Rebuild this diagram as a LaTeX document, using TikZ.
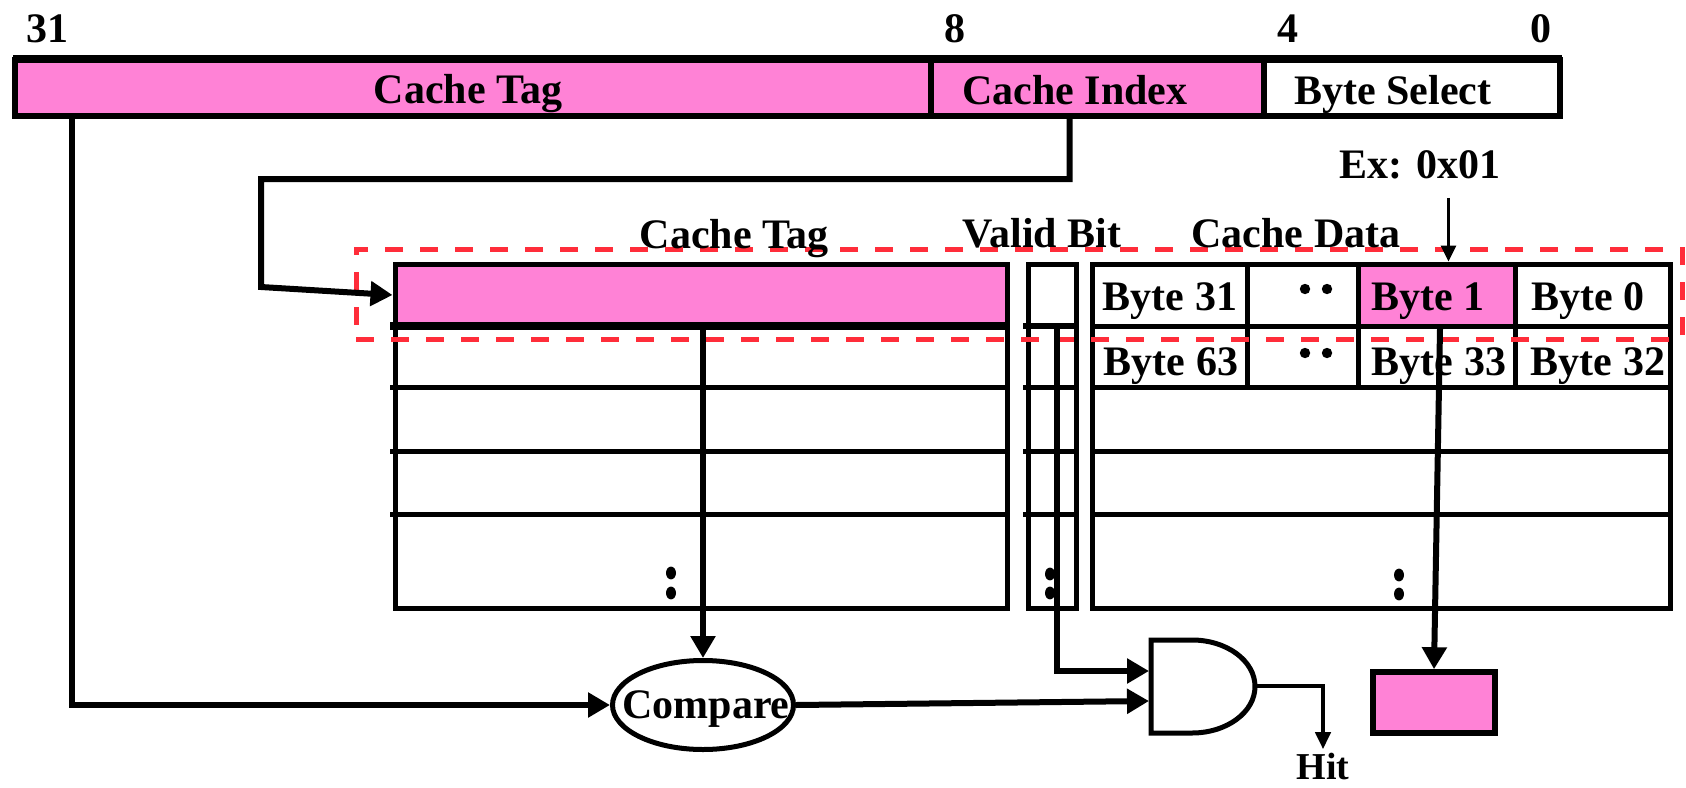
\documentclass[tikz,border=0pt]{standalone}
\usepackage{fontspec}
\setmainfont{Liberation Serif}
\usetikzlibrary{arrows.meta,fit,shapes.geometric}

\definecolor{cachepink}{RGB}{255,130,214}
\definecolor{dashred}{RGB}{255,45,58}

\begin{document}
\begin{tikzpicture}[x=0.5pt, y=-0.5pt,
  cell/.style={draw, line width=2.5pt, inner sep=0pt},
  field/.style={draw, line width=3pt, inner sep=0pt},
  lbl/.style={font=\fontsize{21}{25}\selectfont\bfseries, anchor=base, inner sep=0pt},
  rule/.style={line width=2.5pt},
  wire/.style={line width=3pt, line join=miter, -{Triangle[length=11pt,width=12pt]}},
  smallwire/.style={line width=2pt, -{Triangle[length=8.5pt,width=7.5pt]}},
  hairwire/.style={line width=1.5pt, -{Triangle[length=8pt,width=7.5pt]}},
  dotmark/.style={fill=black},
]
\useasboundingbox (0,0) rectangle (1686,787);

% ---------- address word ----------
\node[field, fill=cachepink, fit={(15,60)(931,116)}] (ftag) {};
\node[field, fill=cachepink, fit={(931,60)(1264,116)}] (fidx) {};
\node[field, fit={(1264,60)(1560,116)}] (fbyte) {};
\draw[line width=4pt] (13,59) -- (1562,59);

\node[lbl] (b31lbl) at (47,42) {31};
\node[lbl] (b8lbl) at (955,42) {8};
\node[lbl] (b4lbl) at (1288,42) {4};
\node[lbl] (b0lbl) at (1541,42) {0};

\node[lbl] (ftagt) at (468,103) {Cache Tag};
\node[lbl] (fidxt) at (1075,104) {Cache Index};
\node[lbl] (fbytet) at (1393,104) {Byte Select};

% ---------- cache array ----------
% first row (selected set)
\node[cell, fill=cachepink, fit={(395,264)(1007,326)}] (tagrow) {};
\node[cell, fit={(1028,264)(1076,326)}] (validrow) {};
\node[cell, fit={(1092,264)(1247,326)}] (b31) {};
\node[cell, fit={(1247,264)(1358,326)}] (bdots) {};
\node[cell, fill=cachepink, fit={(1358,264)(1515,326)}] (b1) {};
\node[cell, fit={(1515,264)(1670,326)}] (b0) {};
% second row
\node[cell, fit={(1092,326)(1247,387)}] (b63) {};
\node[cell, fit={(1247,326)(1358,387)}] (bdotsb) {};
\node[cell, fit={(1358,326)(1515,387)}] (b33) {};
\node[cell, fit={(1515,326)(1670,387)}] (b32) {};

% column outlines
\draw[rule] (395,264) rectangle (1007,608);
\draw[rule] (1028,264) rectangle (1076,608);
\draw[rule] (1092,264) rectangle (1670,608);
\draw[line width=4pt] (390,326) -- (1007,326);
\draw[line width=3pt] (1023,326) -- (1076,326);
\foreach \yy in {387,451,514} {
  \draw[rule] (390,\yy) -- (1010,\yy);
  \draw[rule] (1023,\yy) -- (1076,\yy);
  \draw[rule] (1092,\yy) -- (1670,\yy);
}

% selected line
\node[draw=dashred, line width=2.5pt, dash pattern=on 9pt off 8.5pt,
      inner sep=0pt, fit={(356,249)(1682,339)}] (rowsel) {};

% column headings
\node[lbl] (hdtag) at (734,248) {Cache Tag};
\node[lbl] (hdvalid) at (1042,247) {Valid Bit};
\node[lbl] (hddata) at (1296,247) {Cache Data};

% cell texts
\node[lbl] (t31) at (1170,310) {Byte 31};
\node[lbl] (t1) at (1428,310) {Byte 1};
\node[lbl] (t0) at (1588,310) {Byte 0};
\node[lbl] (t63) at (1171,375) {Byte 63};
\node[lbl] (t33) at (1439,375) {Byte 33};
\node[lbl] (t32) at (1598,375) {Byte 32};

% ellipsis dots
\fill[dotmark] (1305,289) circle[radius=2.6pt] (1327,289) circle[radius=2.6pt];
\fill[dotmark] (1305,353) circle[radius=2.6pt] (1327,353) circle[radius=2.6pt];
\fill[dotmark] (671,573) ellipse[x radius=2.5pt, y radius=3.2pt]
               (671,593) ellipse[x radius=2.5pt, y radius=3.2pt];
\fill[dotmark] (1050,574) ellipse[x radius=2.5pt, y radius=3.2pt]
               (1050,593) ellipse[x radius=2.5pt, y radius=3.2pt];
\fill[dotmark] (1399,575) ellipse[x radius=2.5pt, y radius=3.2pt]
               (1399,594) ellipse[x radius=2.5pt, y radius=3.2pt];

% ---------- comparison and hit logic ----------
\node[draw, ellipse, line width=2.5pt, minimum width=90.5pt, minimum height=44.5pt,
      inner sep=0pt] (cmp) at (703,705) {};
\node[lbl] (cmpt) at (706,718) {Compare};

\draw[line width=2.5pt, line join=miter] (1192,640) -- (1151,640) -- (1151,733) -- (1192,733)
  arc[start angle=90, end angle=-90, x radius=63, y radius=46.5] -- cycle;
\node[inner sep=0pt, fit={(1151,640)(1255,733)}] (andg) {};
\coordinate (in1) at (1149,671);
\coordinate (in2) at (1149,701);
\coordinate (gout) at (1256,686);

\node[font=\fontsize{19}{22}\selectfont\bfseries, anchor=base, inner sep=0pt] (hit) at (1323,779) {Hit};

\node[cell, line width=2.8pt, fill=cachepink, fit={(1373,672)(1495,733)}] (obox) {};

% Ex: 0x01
\node[lbl] (ex) at (1420,178) {Ex: 0x01};
\coordinate (exdrop) at ([xshift=6pt]b1.north);

% ---------- wires ----------
\coordinate (ib1) at (261,179);
\coordinate (ib2) at (261,287);
\draw[wire] ([xshift=30pt]ftag.south west) |- (cmp.west);
\draw[wire] ([xshift=-14pt]fidx.south) |- (ib1) -- (ib2) -- (tagrow.west);
\draw[wire] (tagrow.south -| cmp.north) -- (cmp.north);
\draw[wire] ([xshift=2.5pt]validrow.south) |- (in1);
\draw[wire] (cmp.east) -- (in2);
\draw[smallwire, shorten >=1.5pt] (gout) -| (hit.north);
\draw[wire] ([xshift=1.75pt]b1.south) -- (obox.north);
\draw[hairwire, shorten <=9.5pt] (ex.south -| exdrop) -- (exdrop);
\end{tikzpicture}
\end{document}
